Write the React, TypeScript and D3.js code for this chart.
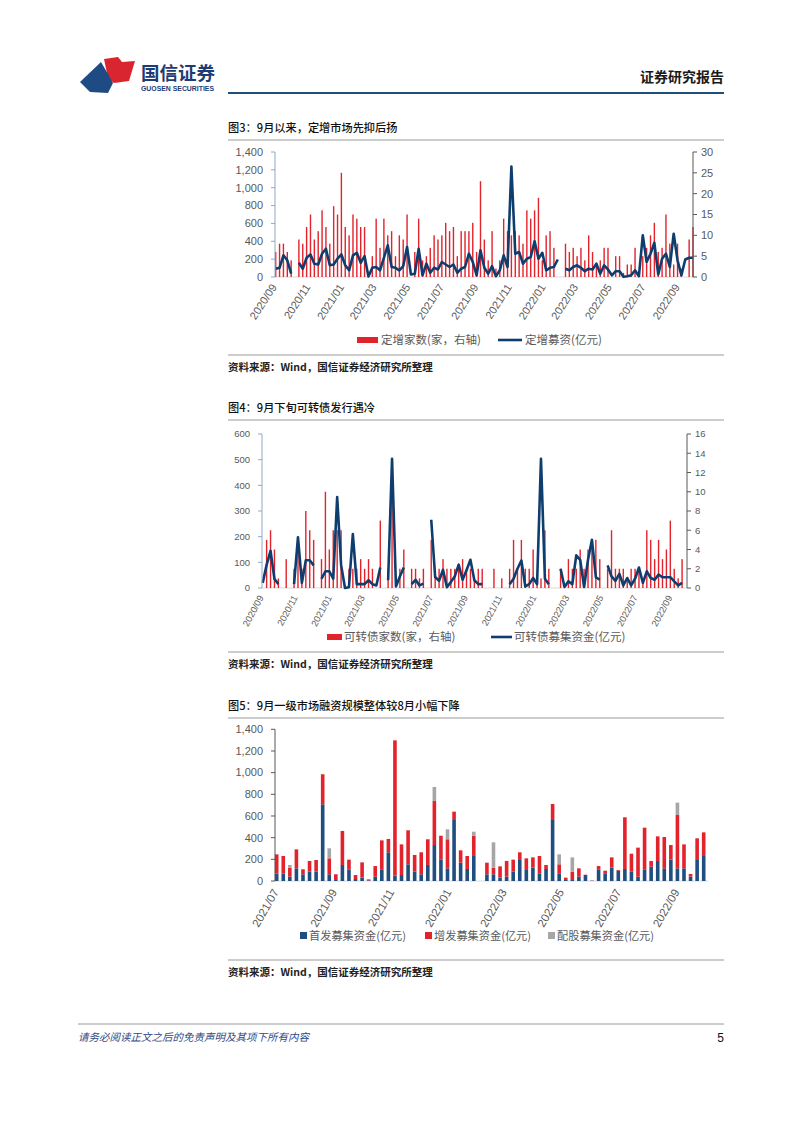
import * as d3 from "d3";

const CN = "'Noto Sans CJK SC', 'Noto Sans', sans-serif";
const NUM = "'Liberation Sans', 'DejaVu Sans', sans-serif";
const RED = "#e3232c";
const NAVY = "#0f3d6e";
const BLUE = "#1f4e80";
const GREY = "#a6a6a6";
const TXT = "#595959";

// weekly (Friday) dates: fig3 / fig4 from 2020-09-04 to 2022-09-30, fig5 from 2021-07-02
const datesAB = d3.timeFriday.range(new Date(2020, 8, 4), new Date(2022, 9, 1));
const datesC = d3.timeFriday.range(new Date(2021, 6, 2), new Date(2022, 9, 1));
const parseMonth = d3.timeParse("%Y/%m");

const ticksAB = ["2020/09", "2020/11", "2021/01", "2021/03", "2021/05", "2021/07", "2021/09",
  "2021/11", "2022/01", "2022/03", "2022/05", "2022/07", "2022/09"];
const ticksC = ["2021/07", "2021/09", "2021/11", "2022/01", "2022/03", "2022/05", "2022/07", "2022/09"];

// fig3: 定增家数 (right axis) and 定增募资 (亿元, left axis)
const placementCount = [
  6, 8, 8, 6, 4, null, 9, 8, 12, 15,
  9, 11, 16, 12, 8, 17, 15, 25, 12, 10,
  15, 14, 12, 12, 0, 5, 14, 7, 14, 10,
  11, 5, 10, 9, 15, 0, 6, 14, 4, 5,
  7, 10, 9, 10, 13, 11, 12, 5, 11, 11,
  11, 13, 6, 23, 9, 4, 11, 2, 4, 14,
  11, 10, 11, 10, 8, 16, 14, 16, 19, 4,
  10, 11, 7, 0, null, 8, 6, 7, 5, 7,
  4, 10, 6, 3, 4, 7, 7, 0, 5, 5,
  1, 3, 3, 7, 0, 5, 7, 10, 13, 6,
  7, 15, 8, 3, 8, 2, 0, 9, 12,
];
const placementAmount = [
  93, 103, 243, 187, 37, null, 159, 93, 215, 252,
  149, 140, 261, 317, 131, 140, 205, 252, 131, 75,
  243, 271, 159, 233, 5, 103, 112, 75, 215, 355,
  112, 103, 75, 121, 336, 28, 37, 317, 19, 149,
  47, 103, 84, 168, 140, 112, 140, 47, 93, 112,
  261, 168, 19, 299, 103, 37, 121, 9, 75, 243,
  112, 1237, 261, 280, 149, 205, 224, 401, 205, 271,
  75, 103, 112, 196, null, 93, 75, 112, 131, 103,
  65, 93, 84, 149, 37, 131, 84, 19, 65, 65,
  2, 9, 19, 75, 9, 467, 168, 261, 383, 28,
  205, 261, 112, 485, 187, 19, 196, 215, 215,
];

// fig4: 可转债家数 (right axis) and 可转债募集资金 (亿元, left axis)
const cbCount = [
  0, 5, 6, 4, 1, 0, 3, 0, 2, 4,
  2, 8, 6, 5, 0, 3, 10, 4, 6, 6,
  6, 0, 2, 2, 2, 3, 2, 3, 2, 0,
  7, 0, 2, 9, 0, 2, 4, 0, 2, 2,
  1, 2, 0, 5, 2, 2, 3, 2, 2, 2,
  2, 3, 2, 2, 1, 2, 2, 0, 0, 2,
  0, 1, 0, 2, 5, 2, 5, 2, 2, 4,
  1, 1, 6, 2, 0, 0, 2, 0, 3, 2,
  2, 4, 2, 4, 5, 5, 3, 0, 2, 6,
  2, 2, 2, 1, 2, 2, 2, 1, 6, 5,
  3, 5, 3, 4, 7, 2, 1, 3, 0,
];
const cbAmount = [
  20, 90, 145, 35, 15, null, null, null, 15, 198,
  20, 108, 108, 88, null, 36, 65, 65, 36, 354,
  90, 0, 3, 210, 15, 15, 15, 30, 15, 10,
  80, null, 30, 503, 6, 45, 80, null, 15, 32,
  10, 17, null, 266, 43, 28, 71, 3, 23, 45,
  91, 32, 69, 110, 30, 15, 15, null, null, null,
  null, null, null, 15, 36, 75, 107, 6, 15, 39,
  15, 503, 36, 15, null, null, 75, 4, 26, 15,
  127, 110, 4, 110, 188, 42, 32, null, 88, 45,
  28, 55, 10, 39, 10, 36, 80, 20, 65, 39,
  32, 52, 42, 42, 42, 26, 10, 20, null,
];

// fig5: 首发 / 增发 / 配股 募集资金 (亿元)
const ipoAmt = [
  70, 70, 40, 117, 62, 86, 86, 708, 62, 9,
  148, 108, 18, 31, 6, 40, 108, 265, 49, 55,
  154, 86, 62, 148, 332, 200, 117, 563, 169, 111,
  231, null, 62, 62, 31, 40, 86, 194, 102, 123,
  71, 111, 563, 71, 9, 9, 40, 55, 3, 108,
  71, 123, 95, 111, 86, 40, 108, 132, 185, 117,
  197, 117, 117, 40, 194, 231,
];
const seoAmt = [
  176, 161, 83, 175, 46, 99, 108, 277, 147, 53,
  314, 89, 37, 141, 9, 98, 267, 123, 1249, 283,
  314, 154, 203, 237, 406, 218, 268, 77, 114, 120,
  187, null, 107, 61, 104, 145, 111, 71, 107, 95,
  160, 37, 148, 83, 22, 77, 77, 3, 2, 30,
  24, 95, 7, 477, 166, 268, 384, 53, 227, 289,
  135, 492, 221, 25, 200, 218,
];
const rightsAmt = [
  0, 0, 25, 0, 0, 0, 0, 0, 93, 0,
  0, 0, 0, 0, 0, 0, 0, 0, 0, 0,
  0, 0, 0, 0, 130, 0, 92, 0, 0, 0,
  37, null, 0, 234, 0, 0, 0, 0, 0, 0,
  0, 0, 0, 92, 0, 132, 0, 0, 0, 0,
  0, 0, 0, 0, 0, 0, 0, 0, 0, 0,
  0, 114, 0, 0, 0, 0,
];

const fmt = d3.format(",");

function Combo(p: any) {
  const x = d3.scaleTime().domain([datesAB[0], datesAB[datesAB.length - 1]]).range([p.x0, p.x1]);
  const yL = d3.scaleLinear().domain([0, p.lMax]).range([p.yb, p.yt]);
  const yR = d3.scaleLinear().domain([0, p.rMax]).range([p.yb, p.yt]);
  const line = d3.line<any>()
    .defined((v) => v != null)
    .x((_, i) => x(datesAB[i]))
    .y((v) => yL(v));
  return (
    <g>
      <line x1={p.ax0} x2={p.ax1} y1={p.yb} y2={p.yb} stroke="#d9d9d9" />
      {p.counts.map((c: any, i: number) =>
        c ? (
          <rect key={i} x={x(datesAB[i]) - p.bw / 2} y={yR(c)} width={p.bw}
            height={p.yb - yR(c)} fill={RED} />
        ) : null
      )}
      <path d={line(p.amounts) || ""} fill="none" stroke={NAVY} strokeWidth={2.6}
        strokeLinejoin="round" />
      <line x1={p.ax0} x2={p.ax0} y1={p.yb} y2={p.yt} stroke="#8ea9c8" />
      {yL.ticks(p.lTicks).map((t) => (
        <g key={"l" + t}>
          <line x1={p.ax0 - 4} x2={p.ax0} y1={yL(t)} y2={yL(t)} stroke="#8ea9c8" />
          <text x={p.ax0 - 12} y={yL(t)} dy="0.35em" textAnchor="end" fontSize={p.fs}
            fontFamily={NUM} fill={TXT}>{p.comma ? fmt(t) : t}</text>
        </g>
      ))}
      <line x1={p.ax1} x2={p.ax1} y1={p.yb} y2={p.yt} stroke="#595959" />
      {yR.ticks(p.rTicks).map((t) => (
        <g key={"r" + t}>
          <line x1={p.ax1} x2={p.ax1 + 4} y1={yR(t)} y2={yR(t)} stroke="#595959" />
          <text x={p.ax1 + 8} y={yR(t)} dy="0.35em" fontSize={p.fs}
            fontFamily={NUM} fill={TXT}>{t}</text>
        </g>
      ))}
      {ticksAB.map((s) => {
        const tx = x(parseMonth(s) as Date);
        const ty = p.yb + 8;
        return (
          <text key={s} x={tx} y={ty} dy="0.35em" textAnchor="end" fontSize={p.xfs}
            fontFamily={NUM} fill={TXT} transform={`rotate(${p.rot},${tx},${ty})`}>{s}</text>
        );
      })}
    </g>
  );
}

function Fig5() {
  const yb = 881;
  const x = d3.scaleTime().domain([datesC[0], datesC[datesC.length - 1]]).range([276.7, 703.7]);
  const y = d3.scaleLinear().domain([0, 1400]).range([yb, 729.3]);
  const rows = datesC.map((d, i) => ({ date: d, gap: ipoAmt[i] == null, ipo: ipoAmt[i] ?? 0, seo: seoAmt[i] ?? 0, rights: rightsAmt[i] ?? 0 }));
  const series = d3.stack<any>().keys(["ipo", "seo", "rights"])(rows);
  const colors = [BLUE, RED, GREY];
  const bw = 3.6;
  return (
    <g>
      <line x1={275} x2={708} y1={yb} y2={yb} stroke="#d9d9d9" />
      {series.map((s, k) => (
        <g key={k} fill={colors[k]}>
          {s.map((d, i) =>
            rows[i].gap || d[1] - d[0] <= 0 ? null : (
              <rect key={i} x={x(rows[i].date) - bw / 2} y={y(d[1])} width={bw}
                height={y(d[0]) - y(d[1])} />
            )
          )}
        </g>
      ))}
      <line x1={275} x2={275} y1={yb} y2={729.3} stroke="#595959" />
      {y.ticks(7).map((t) => (
        <g key={t}>
          <line x1={271} x2={275} y1={y(t)} y2={y(t)} stroke="#595959" />
          <text x={263} y={y(t)} dy="0.35em" textAnchor="end" fontSize={11}
            fontFamily={NUM} fill={TXT}>{fmt(t)}</text>
        </g>
      ))}
      {ticksC.map((s) => {
        const tx = x(parseMonth(s) as Date);
        const ty = yb + 9;
        return (
          <text key={s} x={tx} y={ty} dy="0.35em" textAnchor="end" fontSize={11.5}
            fontFamily={NUM} fill={TXT} transform={`rotate(-60,${tx},${ty})`}>{s}</text>
        );
      })}
    </g>
  );
}

function Title({ y, text }: any) {
  return (
    <g>
      <text x={228} y={y} fontSize={11.2} fontWeight={500} fontFamily={CN} fill="#111">{text}</text>
      <line x1={228} x2={724} y1={y + 8} y2={y + 8} stroke="#9a9a9a" strokeWidth={1.2} />
    </g>
  );
}

function Source({ y }: any) {
  return (
    <g>
      <line x1={228} x2={724} y1={y - 16} y2={y - 16} stroke="#9a9a9a" strokeWidth={1.2} />
      <text x={228} y={y} fontSize={10.5} fontWeight={700} fontFamily={CN} fill="#222">
        资料来源：Wind，国信证券经济研究所整理
      </text>
    </g>
  );
}

export default function App() {
  return (
    <svg width={802} height={1133} style={{ position: "absolute", left: 0, top: 0, background: "#fff" }}>
      {/* header */}
      <path d="M104,59 L118,57 L122,62 L135,61 L129,81 L114,83 L108,78 Z" fill="#d9252f" />
      <path d="M80,82 L101,62 L108,74 L113,83 L108,93 L90,92 Z" fill="#1f4b84" />
      <text x={141} y={80} fontSize={18.5} fontWeight={700} fontFamily={CN} fill="#1f3b73">国信证券</text>
      <text x={141} y={91} fontSize={6.8} fontWeight={700} fontFamily={NUM} fill="#1f3b73"
        textLength={73} lengthAdjust="spacingAndGlyphs">GUOSEN SECURITIES</text>
      <text x={724} y={82} textAnchor="end" fontSize={14} fontWeight={700} fontFamily={CN} fill="#1a1a1a">证券研究报告</text>
      <line x1={228} x2={724} y1={93} y2={93} stroke="#1f4e79" strokeWidth={2} />

      {/* fig 3 */}
      <Title y={132} text="图3：9月以来，定增市场先抑后扬" />
      <Combo x0={275.7} x1={693} ax0={275} ax1={693} yb={277} yt={152} lMax={1400} rMax={30}
        lTicks={7} rTicks={6} counts={placementCount} amounts={placementAmount} bw={1.4}
        fs={11} xfs={11} rot={-57} comma />
      <rect x={357} y={337} width={21} height={6} fill={RED} />
      <text x={381} y={344} fontSize={11.5} fontFamily={CN} fill={TXT}>定增家数(家，右轴)</text>
      <line x1={498} x2={522} y1={340} y2={340} stroke={NAVY} strokeWidth={2.6} />
      <text x={525} y={344} fontSize={11.5} fontFamily={CN} fill={TXT}>定增募资(亿元)</text>
      <Source y={371} />

      {/* fig 4 */}
      <Title y={412} text="图4：9月下旬可转债发行遇冷" />
      <Combo x0={262.7} x1={686} ax0={262} ax1={687} yb={588} yt={434} lMax={600} rMax={16}
        lTicks={6} rTicks={8} counts={cbCount} amounts={cbAmount} bw={1.4}
        fs={9.5} xfs={9.3} rot={-62} />
      <rect x={327} y={634} width={15} height={6} fill={RED} />
      <text x={344} y={641} fontSize={11.5} fontFamily={CN} fill={TXT}>可转债家数(家，右轴)</text>
      <line x1={491} x2={512} y1={637} y2={637} stroke={NAVY} strokeWidth={2.6} />
      <text x={514} y={641} fontSize={11.5} fontFamily={CN} fill={TXT}>可转债募集资金(亿元)</text>
      <Source y={668} />

      {/* fig 5 */}
      <Title y={710} text="图5：9月一级市场融资规模整体较8月小幅下降" />
      <Fig5 />
      {[
        { x: 300, c: BLUE, t: "首发募集资金(亿元)" },
        { x: 425, c: RED, t: "增发募集资金(亿元)" },
        { x: 548, c: GREY, t: "配股募集资金(亿元)" },
      ].map((l) => (
        <g key={l.t}>
          <rect x={l.x} y={932} width={7} height={7} fill={l.c} />
          <text x={l.x + 9} y={940} fontSize={11.2} fontFamily={CN} fill={TXT}>{l.t}</text>
        </g>
      ))}
      <Source y={976} />

      {/* footer */}
      <line x1={78} x2={724} y1={1024} y2={1024} stroke="#9a9a9a" strokeWidth={1} />
      <text x={78} y={1041} fontSize={10.5} fontStyle="italic" fontFamily={CN} fill="#2f4b86">
        请务必阅读正文之后的免责声明及其项下所有内容
      </text>
      <text x={724} y={1042} textAnchor="end" fontSize={12} fontFamily={NUM} fill="#111">5</text>
    </svg>
  );
}
